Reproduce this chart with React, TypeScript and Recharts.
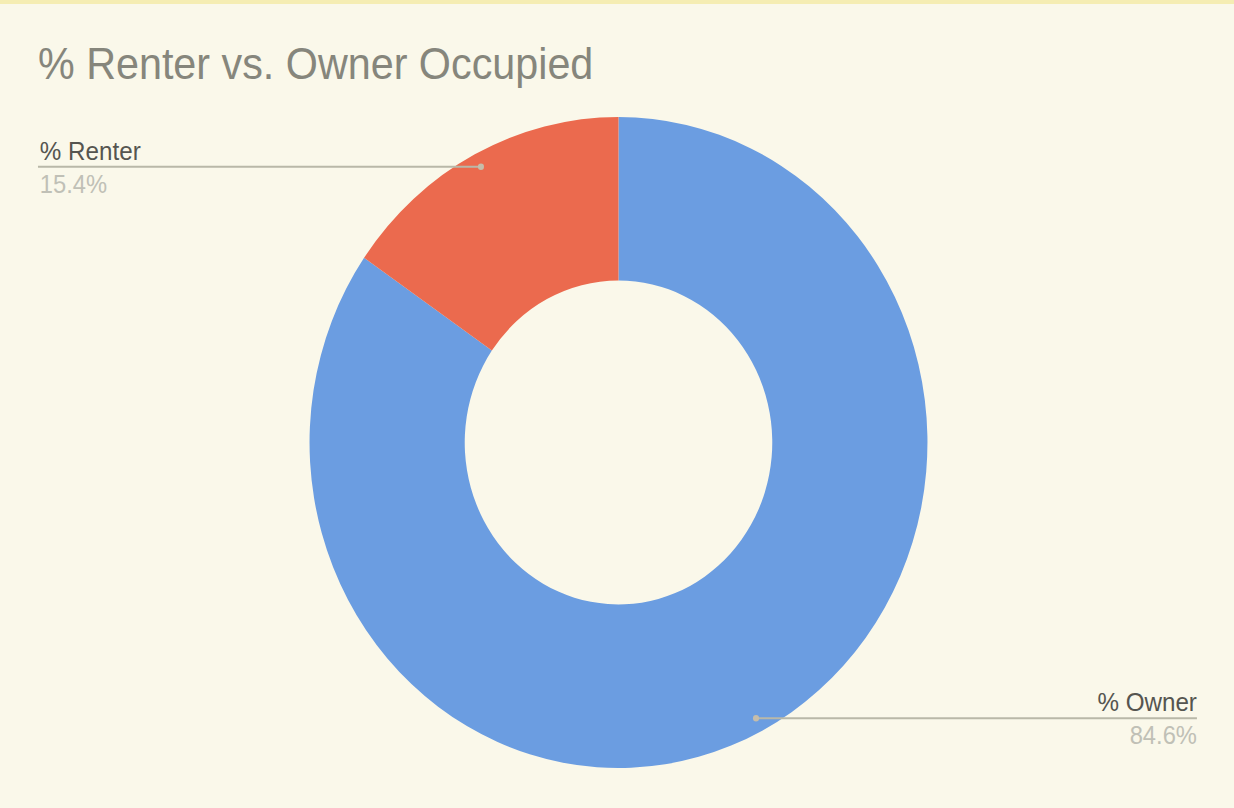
import React from 'react';
import { PieChart, Pie, Cell } from 'recharts';

const categories = ['% Owner', '% Renter'];
const values = [84.6, 15.4];
const colors = ['#6B9DE1', '#EB6A4E'];
const title = '% Renter vs. Owner Occupied';

const SX = 0.9492;
const CHART_W = 1300;
const CHART_H = 808;
const FONT = '"Liberation Sans", Arial, sans-serif';

const data = categories.map((name, i) => ({ name, value: values[i] }));

const renderLabel = (props: any) => {
  const { cx, cy, midAngle, outerRadius, name, percent } = props;
  const RAD = Math.PI / 180;
  const r = outerRadius - 14;
  const x = cx + r * Math.cos(-midAngle * RAD);
  const y = cy + r * Math.sin(-midAngle * RAD);
  const left = x < cx;
  const edge = left ? 40 : CHART_W - 39;
  const tx = left ? edge + 2 : edge;
  const anchor = left ? 'start' : 'end';
  return (
    <g>
      <line x1={edge} y1={y} x2={x} y2={y} stroke="#b9b8a8" strokeWidth={2.2} />
      <circle cx={x} cy={y} r={3.2} fill="#c6bdaa" />
      <text x={tx} y={y - 7} textAnchor={anchor} fontSize={25.5} fill="#555550" fontFamily={FONT}>
        {name}
      </text>
      <text x={tx} y={y + 26} textAnchor={anchor} fontSize={25} fill="#c0c0b6" fontFamily={FONT}>
        {(percent * 100).toFixed(1) + '%'}
      </text>
    </g>
  );
};

export default function App() {
  return (
    <div
      style={{
        position: 'absolute',
        left: 0,
        top: 0,
        width: 1234,
        height: 808,
        overflow: 'hidden',
        background: '#FAF8EA',
      }}
    >
      <div style={{ position: 'absolute', left: 0, top: 0, width: 1234, height: 4, background: '#F5EDB3' }} />
      <div
        style={{
          position: 'absolute',
          left: 0,
          top: 0,
          width: CHART_W,
          height: CHART_H,
          transform: `scaleX(${SX})`,
          transformOrigin: '0 0',
        }}
      >
        <div
          style={{
            position: 'absolute',
            left: 40,
            top: 43,
            fontFamily: FONT,
            fontSize: 43.5,
            lineHeight: '43.5px',
            color: '#86867c',
            whiteSpace: 'nowrap',
          }}
        >
          {title}
        </div>
        <PieChart width={CHART_W} height={CHART_H} margin={{ top: 0, left: 0, right: 0, bottom: 0 }}>
          <Pie
            data={data}
            dataKey="value"
            nameKey="name"
            cx={651.6}
            cy={442.5}
            innerRadius={162}
            outerRadius={325.5}
            startAngle={90}
            endAngle={-270}
            stroke="none"
            label={renderLabel}
            labelLine={false}
            isAnimationActive={false}
          >
            {data.map((d, i) => (
              <Cell key={d.name} fill={colors[i]} />
            ))}
          </Pie>
        </PieChart>
      </div>
    </div>
  );
}
